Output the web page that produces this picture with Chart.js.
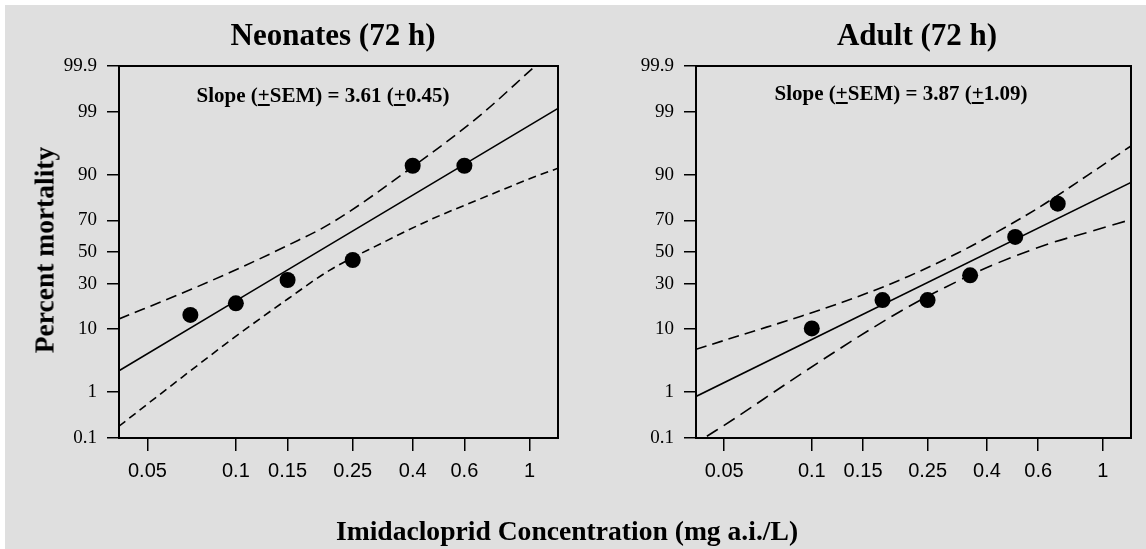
<!DOCTYPE html>
<html>
<head>
<meta charset="utf-8">
<script src="https://cdn.jsdelivr.net/npm/chart.js@4.4.1/dist/chart.umd.min.js"></script>
<style>
  html, body { margin:0; padding:0; background:#ffffff; }
  #wrap { position:relative; width:1146px; height:549px; overflow:hidden; background:#ffffff; }
  #bg { position:absolute; left:5px; top:5px; width:1141px; height:544px; background:#dfdfdf; }
  canvas { position:absolute; top:0; }
  .t { position:absolute; white-space:nowrap; color:#000; font-family:"Liberation Serif","Times New Roman",serif; font-weight:bold; }
  .title { font-size:31px; line-height:31px; transform:translateX(-50%); }
  .slope { font-size:21px; line-height:21px; transform:translateX(-50%); }
  .ytitle { font-size:27.5px; line-height:27px; width:300px; text-align:center; transform:translate(-50%,-50%) rotate(-90deg); }
  .xtitle { font-size:27.6px; line-height:27px; transform:translateX(-50%); }
</style>
</head>
<body>
<div id="wrap">
  <div id="bg"></div>
  <canvas id="c1" width="575" height="549" style="left:0px;width:575px;height:549px;"></canvas>
  <canvas id="c2" width="571" height="549" style="left:575px;width:571px;height:549px;"></canvas>
  <div class="t title" style="left:333px;top:19px;">Neonates (72 h)</div>
  <div class="t title" style="left:917px;top:19px;">Adult (72 h)</div>
  <div class="t slope" style="left:323px;top:85px;">Slope (<u>+</u>SEM) = 3.61 (<u>+</u>0.45)</div>
  <div class="t slope" style="left:901px;top:83px;">Slope (<u>+</u>SEM) = 3.87 (<u>+</u>1.09)</div>
  <div class="t ytitle" style="left:44px;top:250px;">Percent mortality</div>
  <div class="t xtitle" style="left:567px;top:517px;">Imidacloprid Concentration (mg a.i./L)</div>
</div>
<script>
// ---- axis ticks ----
const yTickValues = [0.1, 1, 10, 30, 50, 70, 90, 99, 99.9];
const yTickLabels = ['0.1', '1', '10', '30', '50', '70', '90', '99', '99.9'];
const xTickValues = [0.05, 0.1, 0.15, 0.25, 0.4, 0.6, 1];
const xTickLabels = ['0.05', '0.1', '0.15', '0.25', '0.4', '0.6', '1'];

// ---- Neonates (72 h) ----
const neoDoseX = [0.07, 0.1, 0.15, 0.25, 0.4, 0.6];
const neoMortality = [14.8, 19.7, 32.1, 44.7, 92.4, 92.4];
const neoFitX = [0.04, 1.25];
const neoFitY = [2.43, 99.15];
const neoUpperX = [0.04, 0.0708, 0.105, 0.151, 0.2095, 0.4045, 0.679, 1.03];
const neoUpperY = [13.3, 26.9, 40.2, 54.6, 68.1, 92.4, 98.84, 99.89];
const neoLowerX = [0.04, 0.0654, 0.0993, 0.151, 0.209, 0.31, 0.458, 0.679, 1.0, 1.25];
const neoLowerY = [0.19, 1.85, 7.9, 22.0, 38.2, 55.3, 70.3, 81.1, 88.8, 91.8];

// ---- Adult (72 h) ----
const adultDoseX = [0.1, 0.175, 0.25, 0.35, 0.5, 0.7];
const adultMortality = [10.2, 21.2, 21.2, 34.9, 59.9, 78.9];
const adultFitX = [0.04, 1.25];
const adultFitY = [0.82, 87.6];
const adultUpperX = [0.04, 0.0607, 0.0925, 0.141, 0.2153, 0.3187, 0.3836, 0.6, 0.8915, 1.25];
const adultUpperY = [5.3, 9.0, 14.4, 22.4, 34.4, 49.5, 57.6, 76.8, 90.0, 96.1];
const adultLowerX = [0.0436, 0.0546, 0.0833, 0.127, 0.1886, 0.239, 0.2868, 0.415, 0.6495, 0.9158, 1.25];
const adultLowerY = [0.11, 0.29, 1.53, 5.68, 14.3, 21.6, 27.8, 41.1, 55.3, 63.5, 70.5];

// ---- probit helpers ----
function probit(p) {
  const a = [-3.969683028665376e+01, 2.209460984245205e+02, -2.759285104469687e+02, 1.383577518672690e+02, -3.066479806614716e+01, 2.506628277459239e+00];
  const b = [-5.447609879822406e+01, 1.615858368580409e+02, -1.556989798598866e+02, 6.680131188771972e+01, -1.328068155288572e+01];
  const c = [-7.784894002430293e-03, -3.223964580411365e-01, -2.400758277161838e+00, -2.549732539343734e+00, 4.374664141464968e+00, 2.938163982698783e+00];
  const d = [7.784695709041462e-03, 3.224671290700398e-01, 2.445134137142996e+00, 3.754408661907416e+00];
  const pl = 0.02425;
  let q, r;
  if (p < pl) {
    q = Math.sqrt(-2 * Math.log(p));
    return (((((c[0]*q+c[1])*q+c[2])*q+c[3])*q+c[4])*q+c[5]) / ((((d[0]*q+d[1])*q+d[2])*q+d[3])*q+1);
  } else if (p <= 1 - pl) {
    q = p - 0.5; r = q*q;
    return (((((a[0]*r+a[1])*r+a[2])*r+a[3])*r+a[4])*r+a[5])*q / (((((b[0]*r+b[1])*r+b[2])*r+b[3])*r+b[4])*r+1);
  } else {
    q = Math.sqrt(-2 * Math.log(1 - p));
    return -(((((c[0]*q+c[1])*q+c[2])*q+c[3])*q+c[4])*q+c[5]) / ((((d[0]*q+d[1])*q+d[2])*q+d[3])*q+1);
  }
}
function ncdf(z) {
  const t = 1 / (1 + 0.2316419 * Math.abs(z));
  const dd = 0.3989423 * Math.exp(-z * z / 2);
  let p = dd * t * (0.3193815 + t * (-0.3565638 + t * (1.781478 + t * (-1.821256 + t * 1.330274))));
  return z > 0 ? 1 - p : p;
}

class ProbitScale extends Chart.Scale {
  determineDataLimits() {
    this.min = this.options.min;
    this.max = this.options.max;
  }
  buildTicks() {
    return yTickValues.map(v => ({ value: v }));
  }
  getLabelForValue(v) { return String(v); }
  configure() {
    super.configure();
    this._zmin = probit(this.min / 100);
    this._zmax = probit(this.max / 100);
  }
  getPixelForValue(v) {
    if (v === null || v === undefined || isNaN(v)) return NaN;
    const z = probit(v / 100);
    return this.getPixelForDecimal((z - this._zmin) / (this._zmax - this._zmin));
  }
  getPixelForTick(i) { return this.getPixelForValue(this.ticks[i].value); }
  getValueForPixel(px) {
    const dec = this.getDecimalForPixel(px);
    return 100 * ncdf(this._zmin + dec * (this._zmax - this._zmin));
  }
}
ProbitScale.id = 'probit';
ProbitScale.defaults = {};
Chart.register(ProbitScale);

function pts(xs, ys) { return xs.map((x, i) => ({ x: x, y: ys[i] })); }

const frame = {
  id: 'frame',
  afterDraw(chart) {
    const a = chart.chartArea, ctx = chart.ctx;
    ctx.save();
    ctx.strokeStyle = '#000';
    ctx.lineWidth = 2;
    ctx.strokeRect(a.left, a.top, a.right - a.left, a.bottom - a.top);
    ctx.restore();
  }
};

function makeChart(id, yWidth, padRight, dose, mort, fitX, fitY, upX, upY, loX, loY, upDash, loDash) {
  const lineDs = (data, dash) => ({
    data: data, showLine: true, borderColor: '#000', borderWidth: 1.6,
    borderDash: dash, pointRadius: 0, fill: false, cubicInterpolationMode: 'monotone'
  });
  return new Chart(document.getElementById(id), {
    type: 'scatter',
    data: {
      datasets: [
        lineDs(pts(fitX, fitY), []),
        lineDs(pts(upX, upY), upDash),
        lineDs(pts(loX, loY), loDash),
        { data: pts(dose, mort), showLine: false, pointRadius: 8, pointBackgroundColor: '#000',
          pointBorderColor: '#000', pointBorderWidth: 0 }
      ]
    },
    options: {
      responsive: false, animation: false, events: [],
      layout: { padding: { left: 0, top: 66, right: padRight, bottom: 51 } },
      plugins: { legend: { display: false }, tooltip: { enabled: false }, title: { display: false } },
      scales: {
        x: {
          type: 'logarithmic', min: 0.04, max: 1.25,
          afterBuildTicks: s => { s.ticks = xTickValues.map(v => ({ value: v })); },
          afterFit: s => { s.height = 60; },
          ticks: {
            callback: (v, i) => xTickLabels[i],
            font: { family: 'Liberation Sans', size: 20 }, color: '#000',
            padding: 8, maxRotation: 0, autoSkip: false
          },
          grid: { drawOnChartArea: false, drawTicks: true, tickLength: 13, color: '#000', lineWidth: 1.5 },
          border: { display: true, color: '#000', width: 2 }
        },
        y: {
          type: 'probit', min: 0.1, max: 99.9,
          afterFit: s => { s.width = yWidth; },
          ticks: {
            callback: (v, i) => yTickLabels[i],
            font: { family: 'Liberation Serif', size: 19 }, color: '#000',
            padding: 10, autoSkip: false
          },
          grid: { drawOnChartArea: false, drawTicks: true, tickLength: 12, color: '#000', lineWidth: 1.5 },
          border: { display: true, color: '#000', width: 2 }
        }
      }
    },
    plugins: [frame]
  });
}

makeChart('c1', 119, 17, neoDoseX, neoMortality, neoFitX, neoFitY,
  neoUpperX, neoUpperY, neoLowerX, neoLowerY, [11, 6], [8, 5]);
makeChart('c2', 121, 15, adultDoseX, adultMortality, adultFitX, adultFitY,
  adultUpperX, adultUpperY, adultLowerX, adultLowerY, [11, 6], [13, 7]);
</script>
</body>
</html>
